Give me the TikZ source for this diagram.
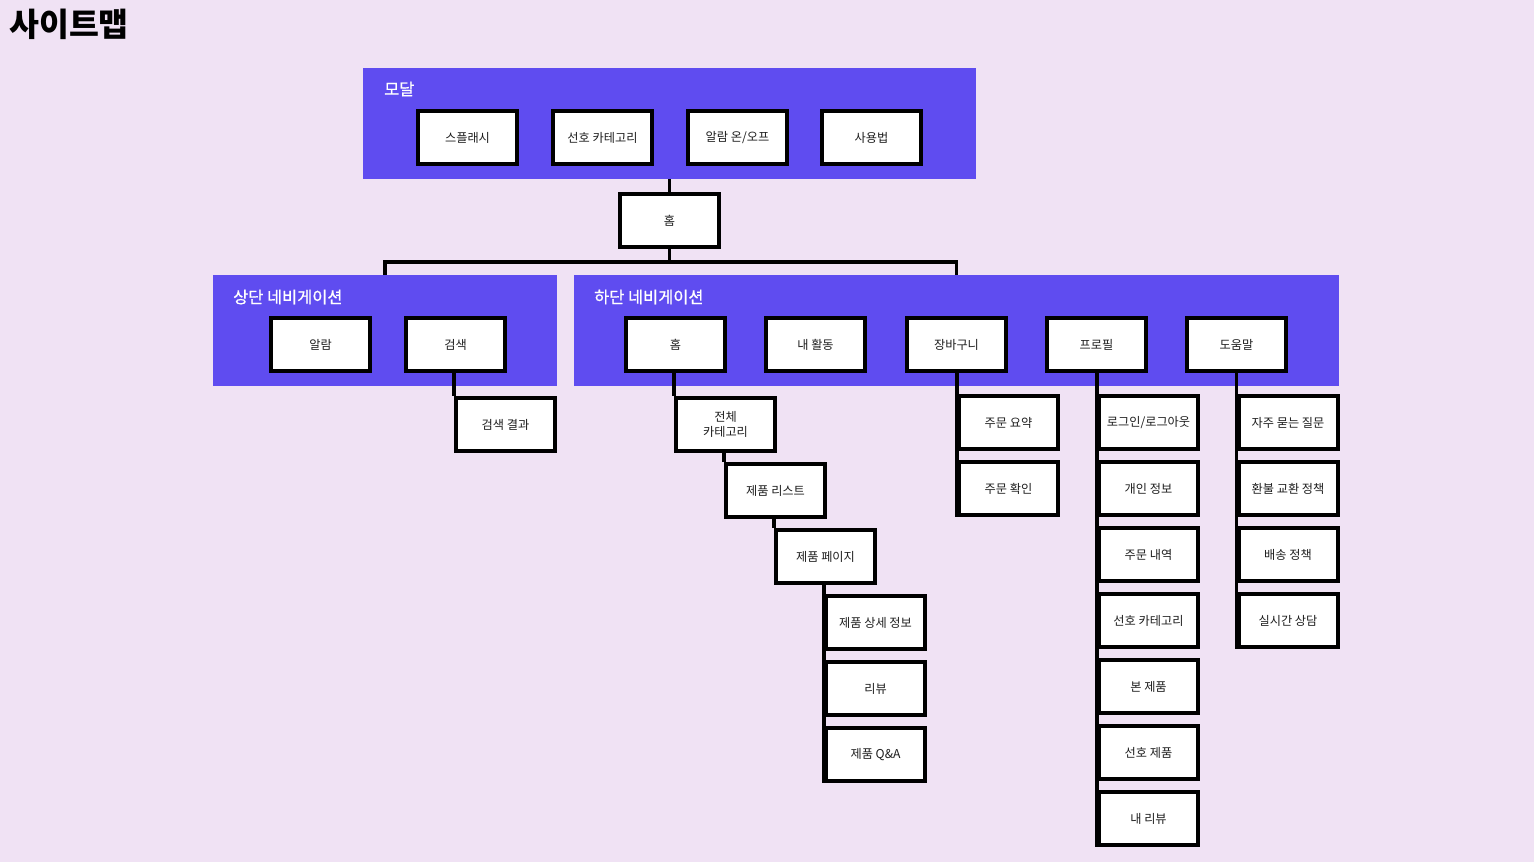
\documentclass[tikz,border=0pt]{standalone}
\usepackage{fontspec}
\setmainfont{Noto Sans CJK KR}
\newfontfamily\krmed[FakeBold=0.8]{Noto Sans CJK KR}
\definecolor{bgc}{RGB}{240,226,244}
\definecolor{framec}{RGB}{95,76,240}
\definecolor{txt}{RGB}{30,30,30}
\begin{document}
\begin{tikzpicture}[x=1pt,y=-1pt,
  frame/.style={fill=framec, inner sep=0pt},
  ftitle/.style={anchor=west, text=white, font=\krmed\fontsize{16.4}{19}\selectfont, inner sep=0pt},
  box/.style={draw=black, line width=4pt, fill=white, minimum width=99pt, minimum height=53pt, inner sep=1pt, text=txt, font=\fontsize{12.2}{15}\selectfont, align=center},
  conn/.style={draw=black, line width=3.5pt}]
\useasboundingbox (0,0) rectangle (1534,862);
\fill[bgc] (0,0) rectangle (1534,862);
\node[anchor=west, inner sep=0pt, font=\fontsize{32.5}{36}\selectfont\bfseries] (title) at (9,24) {사이트맵};

% frames
\node[frame, minimum width=613pt, minimum height=111pt] (modal) at (669.5,123.5) {};
\node[frame, minimum width=344pt, minimum height=111pt] (topnav) at (385,330.5) {};
\node[frame, minimum width=765pt, minimum height=111pt] (botnav) at (956.5,330.5) {};
\node[ftitle] (tmodal) at (384,89) {모달};
\node[ftitle] (ttop) at (233,297) {상단 네비게이션};
\node[ftitle] (tbot) at (594,297) {하단 네비게이션};

% modal boxes
\node[box] (splash) at (467.5,137.5) {스플래시};
\node[box] (prefcat) at (602.5,137.5) {선호 카테고리};
\node[box] (alarmonoff) at (737.5,137.5) {알람 온/오프};
\node[box] (howto) at (871.5,137.5) {사용법};

% home
\node[box] (home) at (669.5,220.5) {홈};
\coordinate (bar) at (669.5,262);
\draw[conn] (modal.south) -- (home.north);
\draw[conn] (home.south) -- (bar);
\draw[conn] (topnav.north) |- (bar) -| (botnav.north);

% top nav
\node[box] (alarm) at (320.5,344.5) {알람};
\node[box] (search) at (455.5,344.5) {검색};
\node[box] (sresult) at (505.5,424.5) {검색 결과};
\draw[conn] (search.south -| sresult.west) -- (sresult.north west);

% bottom nav
\node[box] (bhome) at (675.5,344.5) {홈};
\node[box] (activity) at (815.5,344.5) {내 활동};
\node[box] (cart) at (956.5,344.5) {장바구니};
\node[box] (profile) at (1096.5,344.5) {프로필};
\node[box] (help) at (1236.5,344.5) {도움말};

% home staircase
\node[box] (allcat) at (725.5,424.5) {전체\\카테고리};
\node[box] (plist) at (775.5,490.5) {제품 리스트};
\node[box] (ppage) at (825.5,556.5) {제품 페이지};
\node[box] (pdetail) at (875.5,622.5) {제품 상세 정보};
\node[box] (review) at (875.5,688.5) {리뷰};
\node[box] (pqa) at (875.5,754.5) {제품 Q\&A};
\draw[conn] (bhome.south -| allcat.west) -- (allcat.north west);
\draw[conn] (allcat.south -| plist.west) -- (plist.north west);
\draw[conn] (plist.south -| ppage.west) -- (ppage.north west);
\draw[conn] (ppage.south -| pdetail.west) -- (pqa.south west);

% cart
\node[box] (osum) at (1008.5,422.5) {주문 요약};
\node[box] (ochk) at (1008.5,488.5) {주문 확인};
\draw[conn] (cart.south -| osum.west) -- (ochk.south west);

% profile
\node[box] (login) at (1148.5,422.5) {로그인/로그아웃};
\node[box] (pinfo) at (1148.5,488.5) {개인 정보};
\node[box] (orders) at (1148.5,554.5) {주문 내역};
\node[box] (pcat2) at (1148.5,620.5) {선호 카테고리};
\node[box] (seen) at (1148.5,686.5) {본 제품};
\node[box] (pprod) at (1148.5,752.5) {선호 제품};
\node[box] (myrev) at (1148.5,818.5) {내 리뷰};
\draw[conn] (profile.south -| login.west) -- (myrev.south west);

% help
\node[box] (faq) at (1288,422.5) {자주 묻는 질문};
\node[box] (refund) at (1288,488.5) {환불 교환 정책};
\node[box] (ship) at (1288,554.5) {배송 정책};
\node[box] (chat) at (1288,620.5) {실시간 상담};
\draw[conn] (help.south -| faq.west) -- (chat.south west);
\end{tikzpicture}
\end{document}
